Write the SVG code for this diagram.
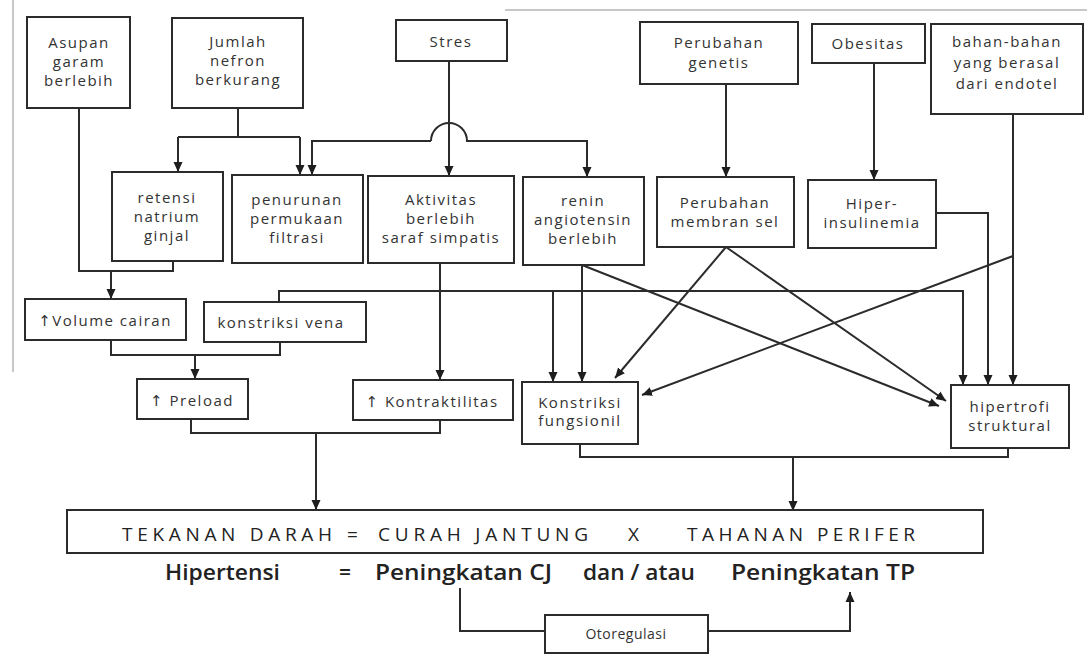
<svg xmlns="http://www.w3.org/2000/svg" width="1087" height="661" viewBox="0 0 1087 661">
<style>
.box{fill:#fff;stroke:#2b2b2b;stroke-width:2}
.t{font-family:"Open Sans","DejaVu Sans",sans-serif;font-size:15px;fill:#333;text-anchor:middle;letter-spacing:1.5px}
.b{font-family:"Open Sans","DejaVu Sans",sans-serif;font-size:19px;fill:#222}
.h{font-family:"Open Sans","DejaVu Sans",sans-serif;font-size:21px;fill:#222;font-weight:600}
.c{fill:none;stroke:#2b2b2b;stroke-width:2}
.a{marker-end:url(#arr)}
.edge{fill:none;stroke:#c8c8c8;stroke-width:2}
</style>
<defs>
<marker id="arr" markerUnits="userSpaceOnUse" markerWidth="10" markerHeight="10" viewBox="0 0 10 10" refX="10" refY="5" orient="auto">
<path d="M0,0.5 L10,5 L0,9.5 Z" fill="#1e1e1e"/>
</marker>
</defs>
<rect width="1087" height="661" fill="#fff"/>
<path class="edge" d="M13,0 V372"/>
<path class="edge" d="M505,10 H1087"/>

<g id="connectors">
<path class="c" d="M79,108 V271 H173 V261"/>
<path class="c a" d="M111,271 V299"/>
<path class="c" d="M238,108 V137 M178,137 H300"/>
<path class="c a" d="M178,137 V172"/>
<path class="c a" d="M300,137 V175"/>
<path class="c a" d="M449,61 V176"/>
<path class="c a" d="M431,141 H312 V175"/>
<path class="c a" d="M431,141 A18,18 0 0 1 467,141 H587 V177"/>
<path class="c a" d="M726,84 V177"/>
<path class="c a" d="M874,63 V180"/>
<path class="c a" d="M440,263 V380"/>
<path class="c a" d="M582,265 V382"/>
<path class="c a" d="M582,265 L939,406"/>
<path class="c a" d="M726,247 L615,378"/>
<path class="c a" d="M726,247 L946,401"/>
<path class="c a" d="M1013,114 V385"/>
<path class="c a" d="M1013,256 L642,395"/>
<path class="c a" d="M936,213 H988 V385"/>
<path class="c a" d="M279,302 V291 H963 V385"/>
<path class="c a" d="M553,291 V382"/>
<path class="c" d="M111,340 V355 H280 V342"/>
<path class="c a" d="M195,355 V379"/>
<path class="c" d="M191,419 V433 H440 V420"/>
<path class="c a" d="M316,433 V510"/>
<path class="c" d="M580,444 V457 H1008 V448"/>
<path class="c a" d="M793,457 V511"/>
<path class="c" d="M460,588 V631 H545"/>
<path class="c a" d="M708,631 H850 V592"/>
</g>

<g id="asupan"><rect class="box" x="27" y="17" width="103" height="91"/>
<text class="t" x="79" y="48">Asupan</text><text class="t" x="79" y="67">garam</text><text class="t" x="79" y="86">berlebih</text></g>
<g id="jumlah"><rect class="box" x="172" y="18" width="131" height="90"/>
<text class="t" x="238" y="47">Jumlah</text><text class="t" x="238" y="66">nefron</text><text class="t" x="238" y="85">berkurang</text></g>
<g id="stres"><rect class="box" x="396" y="20" width="111" height="41"/>
<text class="t" x="451" y="47">Stres</text></g>
<g id="genetis"><rect class="box" x="640" y="22" width="158" height="62"/>
<text class="t" x="719" y="48">Perubahan</text><text class="t" x="719" y="68">genetis</text></g>
<g id="obesitas"><rect class="box" x="812" y="24" width="113" height="39"/>
<text class="t" x="868" y="49">Obesitas</text></g>
<g id="endotel"><rect class="box" x="931" y="24" width="152" height="90"/>
<text class="t" x="1007" y="47">bahan-bahan</text><text class="t" x="1007" y="68">yang berasal</text><text class="t" x="1007" y="89">dari endotel</text></g>

<g id="retensi"><rect class="box" x="112" y="172" width="111" height="89"/>
<text class="t" x="167" y="203">retensi</text><text class="t" x="167" y="222">natrium</text><text class="t" x="167" y="241">ginjal</text></g>
<g id="penurunan"><rect class="box" x="232" y="175" width="131" height="88"/>
<text class="t" x="297" y="205">penurunan</text><text class="t" x="297" y="224">permukaan</text><text class="t" x="297" y="243">filtrasi</text></g>
<g id="aktivitas"><rect class="box" x="368" y="176" width="146" height="87"/>
<text class="t" x="441" y="205">Aktivitas</text><text class="t" x="441" y="224">berlebih</text><text class="t" x="441" y="243">saraf simpatis</text></g>
<g id="renin"><rect class="box" x="523" y="177" width="121" height="88"/>
<text class="t" x="583" y="206">renin</text><text class="t" x="583" y="225">angiotensin</text><text class="t" x="583" y="244">berlebih</text></g>
<g id="membran"><rect class="box" x="657" y="177" width="137" height="70"/>
<text class="t" x="725" y="208">Perubahan</text><text class="t" x="725" y="227">membran sel</text></g>
<g id="hiperinsulinemia"><rect class="box" x="808" y="180" width="128" height="68"/>
<text class="t" x="872" y="209">Hiper-</text><text class="t" x="872" y="228">insulinemia</text></g>

<g id="volume"><rect class="box" x="25" y="299" width="161" height="41"/>
<text class="t" x="105" y="326">↑Volume cairan</text></g>
<g id="vena"><rect class="box" x="204" y="302" width="162" height="40"/>
<text class="t" x="281" y="328">konstriksi vena</text></g>
<g id="preload"><rect class="box" x="137" y="379" width="111" height="40"/>
<text class="t" x="192" y="406">↑ Preload</text></g>
<g id="kontraktilitas"><rect class="box" x="353" y="380" width="160" height="40"/>
<text class="t" x="432" y="407">↑ Kontraktilitas</text></g>
<g id="fungsionil"><rect class="box" x="522" y="382" width="116" height="62"/>
<text class="t" x="580" y="408">Konstriksi</text><text class="t" x="580" y="426">fungsionil</text></g>
<g id="hipertrofi"><rect class="box" x="951" y="385" width="118" height="63"/>
<text class="t" x="1010" y="412">hipertrofi</text><text class="t" x="1010" y="431">struktural</text></g>

<g id="tekanan"><rect class="box" x="67" y="510" width="916" height="43"/>
<text class="b" x="122" y="541" textLength="210" lengthAdjust="spacing">TEKANAN DARAH</text>
<text class="b" x="347" y="541">=</text>
<text class="b" x="378" y="541" textLength="210" lengthAdjust="spacing">CURAH JANTUNG</text>
<text class="b" x="628" y="541">X</text>
<text class="b" x="687" y="541" textLength="228" lengthAdjust="spacing">TAHANAN PERIFER</text></g>
<g id="hipertensi">
<text class="h" x="165" y="580" textLength="115" lengthAdjust="spacingAndGlyphs">Hipertensi</text>
<text class="h" x="339" y="580">=</text>
<text class="h" x="375" y="580" textLength="177" lengthAdjust="spacingAndGlyphs">Peningkatan CJ</text>
<text class="h" x="583" y="580" textLength="112" lengthAdjust="spacingAndGlyphs">dan / atau</text>
<text class="h" x="731" y="580" textLength="184" lengthAdjust="spacingAndGlyphs">Peningkatan TP</text></g>
<g id="otoregulasi"><rect class="box" x="545" y="615" width="163" height="38"/>
<text class="t" x="626" y="639" style="font-size:14px;letter-spacing:0.5px">Otoregulasi</text></g>
</svg>
